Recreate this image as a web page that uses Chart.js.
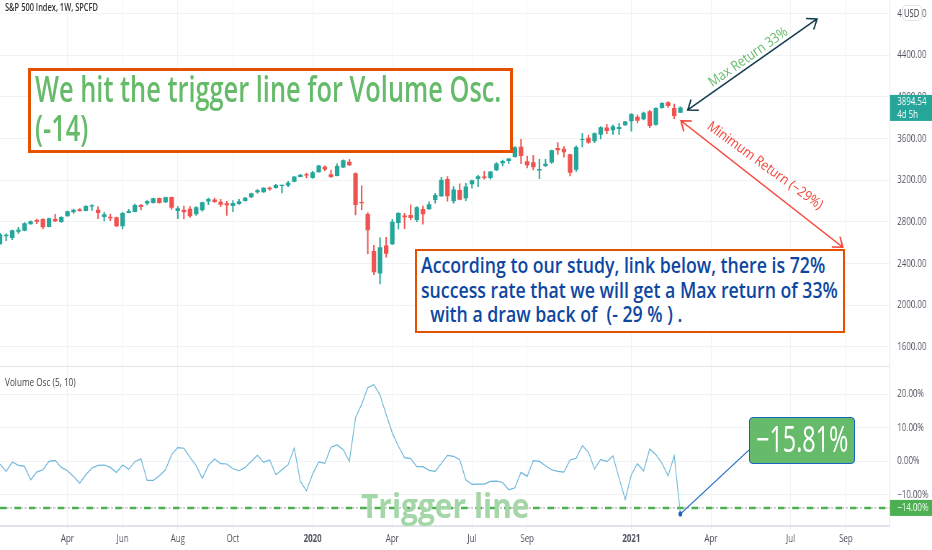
<!DOCTYPE html>
<html>
<head>
<meta charset="utf-8">
<script src="https://cdn.jsdelivr.net/npm/chart.js@4"></script>
<style>
  html, body { margin: 0; padding: 0; background: #fff; overflow: hidden; }
  #wrap { position: relative; width: 932px; height: 550px; overflow: hidden; }
  /* the source screenshot is squeezed sideways, so the canvases are drawn wide and pulled in */
  canvas { position: absolute; left: 0; transform-origin: left top; }
  .note { position: absolute; box-sizing: border-box; background: #fff; font-family: "Open Sans", sans-serif; }
  .line { position: absolute; white-space: nowrap; transform-origin: left top; font-family: "Open Sans", sans-serif; }
</style>
</head>
<body>
<div id="wrap">
  <canvas id="price" style="top:0"></canvas>
  <canvas id="osc" style="top:367px"></canvas>

  <div class="line" style="left:5px;top:0;font-size:10.5px;font-weight:600;color:#333;transform:scaleX(.71)">S&amp;P 500 Index, 1W, SPCFD</div>
  <div class="line" style="left:5px;top:375px;font-size:10.5px;color:#444;transform:scaleX(.78)">Volume Osc (5, 10)</div>

  <div class="note" style="left:28px;top:68px;width:485px;height:85px;border:3px solid #e65100"></div>
  <div class="line" style="left:35px;top:69px;font-size:36px;line-height:39px;color:#66bb6a;font-weight:600;transform:scaleX(.705)">We hit the trigger line for Volume Osc.<br>(-14)</div>

  <div class="note" style="left:415px;top:249px;width:430px;height:84px;border:2px solid #e65100"></div>
  <div class="line" style="left:421px;top:252px;font-size:22px;line-height:24.5px;color:#0d47a1;font-weight:600;transform:scaleX(.805)">According to our study, link below, there is 72%<br>success rate that we will get a Max return of 33%<br>&nbsp;&nbsp;with a draw back of &nbsp;(- 29 % ) .</div>

  <div class="line" style="left:704px;top:75px;font-size:14px;color:#66bb6a;transform:rotate(-35deg) scaleX(.87)">Max Return 33%</div>
  <div class="line" style="left:715px;top:116px;font-size:14px;color:#f44336;transform:rotate(36deg) scaleX(.88)">Minimum Return (−29%)</div>

  <div class="line" style="left:361px;top:482px;font-size:34px;font-weight:700;color:#a5d6a7;transform:scaleX(.88)">Trigger line</div>

  <div class="note" style="left:749px;top:417px;width:106px;height:47px;background:#66bb6a;border:1px solid #1565c0;border-radius:4px"></div>
  <div class="line" style="left:756px;top:416px;font-size:36px;line-height:46px;color:#fff;transform:scaleX(.65)">−15.81%</div>

  <div class="note" style="left:902px;top:5px;width:20px;height:16px;border:1px solid #e0e3eb;border-radius:4px"></div>
  <div class="line" style="left:904px;top:6px;font-size:10.5px;color:#333;transform:scaleX(.72)">USD</div>
</div>

<script>
// weekly candles
const opens = [
  2586,2663,2647,2708,2718,2779,2814,2824,2753,2827,2801,2856,2894,2917,2907,2949,2913,2849,2846,2840,
  2760,2888,2897,2958,2978,2984,3026,2990,3035,2907,2913,2923,2875,2913,2997,3010,2990,2974,2955,2974,
  3003,3038,3086,3086,3125,3128,3147,3151,3189,3234,3253,3225,3279,3327,3254,3244,3324,3375,3263,2988,
  2872,2516,2305,2568,2587,2792,2856,2863,2821,2920,2923,3013,3048,3209,3000,3103,3029,3164,3215,3231,
  3225,3298,3365,3388,3426,3519,3378,3368,3295,3339,3372,3506,3500,3445,3304,3589,3605,3577,3641,3702,
  3682,3695,3730,3769,3807,3788,3859,3737,3897,3945,3891,3852
];
const highs = [
  2689,2683,2721,2747,2792,2808,2827,2830,2836,2872,2849,2904,2923,2926,2955,2965,2945,2891,2875,2846,
  2891,2920,2971,2968,3003,3029,3029,3038,3038,2945,2952,2945,2945,2990,3029,3029,3016,2997,3003,3016,
  3035,3077,3109,3128,3135,3160,3154,3189,3234,3256,3269,3286,3343,3337,3298,3356,3395,3401,3270,3145,
  2888,2574,2645,2651,2824,2888,2882,2962,2946,2952,2991,3074,3228,3234,3138,3164,3170,3202,3247,3286,
  3286,3369,3394,3410,3522,3593,3432,3439,3400,3400,3490,3561,3522,3452,3529,3650,3634,3654,3714,3737,
  3730,3746,3766,3839,3827,3855,3871,3897,3945,3955,3932,3907
];
const lows = [
  2586,2619,2628,2689,2711,2776,2782,2731,2750,2801,2795,2853,2881,2901,2904,2910,2830,2808,2811,2753,
  2731,2885,2894,2913,2961,2978,2978,2984,2920,2830,2827,2843,2862,2901,2965,2987,2945,2862,2897,2968,
  2997,3032,3074,3083,3102,3122,3077,3138,3183,3231,3221,3218,3276,3292,3225,3241,3321,3340,2866,2914,
  2491,2292,2202,2459,2580,2731,2734,2818,2802,2776,2920,2978,3042,2997,2978,3010,3004,3122,3138,3209,
  3209,3292,3336,3362,3420,3359,3317,3298,3214,3330,3362,3448,3420,3240,3285,3519,3554,3561,3596,3647,
  3641,3641,3727,3670,3750,3779,3705,3727,3891,3900,3791,3849
];
const closes = [
  2676,2673,2715,2721,2782,2801,2804,2750,2830,2808,2843,2897,2913,2907,2949,2955,2888,2869,2836,2760,
  2881,2901,2958,2945,2997,3022,2984,3032,2939,2926,2894,2856,2936,2984,3016,2993,2968,2961,2978,2993,
  3029,3070,3099,3125,3115,3151,3154,3173,3231,3250,3247,3273,3337,3305,3234,3334,3388,3346,2965,2981,
  2722,2318,2552,2497,2798,2882,2846,2840,2936,2875,2965,3055,3202,3048,3106,3016,3135,3196,3234,3225,
  3279,3356,3381,3404,3513,3436,3346,3327,3304,3355,3484,3490,3471,3275,3516,3593,3564,3647,3705,3676,
  3714,3708,3762,3833,3775,3846,3724,3891,3939,3916,3820,3894.54
];
const oscValues = [
  -0.9,-3.1,-0.3,-1.3,-1.6,-5.6,-3.3,-2.6,-0.1,0.2,-1.9,-2.9,-4.6,-6.6,-4.1,-2.1,-1.3,-1.2,-1.9,-3.4,
  -1.2,-2.5,-0.2,0.7,-5.8,-5.8,-4.4,-2.6,1.9,4.0,3.8,1.1,-1.4,-5.2,-1.3,0.6,-0.8,-0.9,-2.3,-2.9,
  -1.9,-0.1,1.7,-0.4,0.3,-4.1,-2.6,-1.1,3.9,-6.1,-8.9,-3.9,-0.3,-0.7,4.1,4.8,3.4,-0.1,12.9,16.9,
  21.9,22.8,19.7,13.9,8.4,4.4,1.0,0.7,-1.7,-1.7,-2.8,-3.1,-0.7,1.7,1.4,0.4,-5.6,-7.0,-6.9,-6.9,
  -6.1,-6.0,-6.4,-8.6,-8.0,-3.4,-4.6,0.1,-0.1,-1.4,-2.6,-3.1,-3.3,0.3,0.8,4.6,2.6,-2.4,0.5,-0.2,
  1.5,-5.1,-11.5,-4.1,-0.8,-3.0,3.6,1.9,-0.7,-4.4,1.6,-15.81
];
const weekTicks = [11, 20, 29, 38, 51, 64, 77, 86, 103, 116, 129, 138];
const weekLabels = ['Apr', 'Jun', 'Aug', 'Oct', '2020', 'Apr', 'Jul', 'Sep', '2021', 'Apr', 'Jul', 'Sep'];
const priceTicks = [1600, 2000, 2400, 2800, 3200, 3600, 4000, 4400, 4800];
const oscTicks = [-10, 0, 10, 20];
const triggerLevel = -14;
const maxArrow = [[112.2, 3875], [133.3, 4750]];
const minArrow = [[111.1, 3771], [137.5, 2555]];
const calloutLine = [[111, -15.81], [122.2, 3.3]];

const SQUEEZE = 0.72;
const UP = '#26a69a', DOWN = '#ef5350', GRID = '#f1f2f4', AXIS = '#e0e3eb';
const AXIS_FONT = { family: '"Open Sans", sans-serif', size: 11 };
const AXIS_W = 42 / SQUEEZE;
const weekMin = 0, weekMax = 145.2;

const barColors = opens.map((o, i) => closes[i] >= o ? UP : DOWN);

function setupCanvas(id, h) {
  const el = document.getElementById(id);
  el.width = Math.round(932 / SQUEEZE);
  el.height = h;
  el.style.transform = 'scaleX(' + (932 / el.width) + ')';
  return el;
}

function noMargins(a) {
  a.paddingTop = a.paddingBottom = a.paddingLeft = a.paddingRight = 0;
}

function rightAxis(ticks, fmt, min, max) {
  return {
    position: 'right', min, max,
    afterBuildTicks: a => { a.ticks = ticks.map(v => ({ value: v })); },
    afterFit: a => { a.width = AXIS_W; noMargins(a); },
    grid: { color: GRID, drawTicks: false },
    border: { color: AXIS },
    ticks: { color: '#50535e', font: AXIS_FONT, padding: 10, callback: fmt, autoSkip: false, maxRotation: 0 }
  };
}

function arrow(ctx, from, to, color) {
  // heads are worked out in screen space so they don't come out skewed
  const a0 = [from[0] * SQUEEZE, from[1]], a1 = [to[0] * SQUEEZE, to[1]];
  const ang = Math.atan2(a1[1] - a0[1], a1[0] - a0[0]);
  ctx.save();
  ctx.scale(1 / SQUEEZE, 1);
  ctx.strokeStyle = color;
  ctx.lineWidth = 1.5;
  ctx.beginPath();
  ctx.moveTo(a0[0], a0[1]);
  ctx.lineTo(a1[0], a1[1]);
  [[a1, ang + Math.PI], [a0, ang]].forEach(([p, a]) => {
    ctx.moveTo(p[0] + 11 * Math.cos(a - 0.65), p[1] + 11 * Math.sin(a - 0.65));
    ctx.lineTo(p[0], p[1]);
    ctx.lineTo(p[0] + 11 * Math.cos(a + 0.65), p[1] + 11 * Math.sin(a + 0.65));
  });
  ctx.stroke();
  ctx.restore();
}

function axisTag(ctx, scale, value, color, h, lines) {
  const y = scale.getPixelForValue(value);
  ctx.save();
  ctx.fillStyle = color;
  ctx.fillRect(scale.left, y - h / 2, AXIS_W, h);
  ctx.fillStyle = '#fff';
  ctx.font = '11px ' + AXIS_FONT.family;
  ctx.textAlign = 'left';
  ctx.textBaseline = 'middle';
  lines.forEach((t, i) => ctx.fillText(t, scale.left + 10, y + (i - (lines.length - 1) / 2) * 13));
  ctx.restore();
}

new Chart(setupCanvas('price', 367), {
  type: 'bar',
  data: {
    datasets: [
      { data: highs.map((h, i) => ({ x: i, y: [lows[i], h] })), backgroundColor: barColors, barThickness: 1.4, grouped: false, order: 2 },
      { data: closes.map((c, i) => ({ x: i, y: [opens[i], c] })), backgroundColor: barColors, barThickness: 5.6, grouped: false, order: 1 }
    ]
  },
  options: {
    responsive: false, animation: false, events: [],
    layout: { padding: 0, autoPadding: false },
    plugins: { legend: { display: false }, tooltip: { enabled: false } },
    scales: {
      x: {
        type: 'linear', min: weekMin, max: weekMax, offset: false,
        afterBuildTicks: a => { a.ticks = weekTicks.map(v => ({ value: v })); },
        afterFit: a => { a.height = 1; noMargins(a); },
        grid: { color: GRID, drawTicks: false, offset: false },
        border: { color: AXIS },
        ticks: { display: false }
      },
      y: rightAxis(priceTicks, v => v.toFixed(2), 1413.6, 4932)
    }
  },
  plugins: [{
    id: 'priceMarks',
    afterDraw(chart) {
      const { ctx, scales: { x, y } } = chart;
      const px = p => [x.getPixelForValue(p[0]), y.getPixelForValue(p[1])];
      arrow(ctx, px(maxArrow[0]), px(maxArrow[1]), '#0f3a4d');
      arrow(ctx, px(minArrow[0]), px(minArrow[1]), '#f44336');
      axisTag(ctx, y, closes[closes.length - 1], UP, 26, ['3894.54', '4d 5h']);
    }
  }]
});

new Chart(setupCanvas('osc', 183), {
  type: 'line',
  data: {
    datasets: [
      { data: oscValues.map((v, i) => ({ x: i, y: v })), borderColor: '#6bb5d8', borderWidth: 1.2, pointRadius: 0, order: 1 },
      { data: [{ x: weekMin, y: triggerLevel }, { x: weekMax, y: triggerLevel }], borderColor: '#4caf50', borderWidth: 2.5, borderDash: [9, 11], pointRadius: 0, order: 3 },
      { data: [{ x: weekMin, y: triggerLevel }, { x: weekMax, y: triggerLevel }], borderColor: '#9e9e9e', borderWidth: 1, borderDash: [12, 2, 3, 3], pointRadius: 0, order: 4 },
      { data: calloutLine.map(p => ({ x: p[0], y: p[1] })), borderColor: '#1565c0', borderWidth: 1.2, pointRadius: [2, 0], pointBackgroundColor: '#1565c0', order: 0 }
    ]
  },
  options: {
    responsive: false, animation: false, events: [],
    layout: { padding: 0, autoPadding: false },
    plugins: { legend: { display: false }, tooltip: { enabled: false } },
    scales: {
      x: {
        type: 'linear', min: weekMin, max: weekMax, offset: false,
        afterBuildTicks: a => { a.ticks = weekTicks.map(v => ({ value: v })); },
        afterFit: a => { a.height = 24; noMargins(a); },
        grid: { color: GRID, tickLength: 3, tickColor: AXIS },
        border: { color: AXIS, width: 2 },
        ticks: {
          color: '#50535e', autoSkip: false, maxRotation: 0, padding: 3,
          font: c => ({ ...AXIS_FONT, weight: /^\d/.test(weekLabels[c.index] || '') ? 'bold' : 'normal' }),
          callback: (v, i) => weekLabels[i]
        }
      },
      y: rightAxis(oscTicks, v => (v < 0 ? '−' : '') + Math.abs(v).toFixed(2) + '%', -19.4, 28.06)
    }
  },
  plugins: [{
    id: 'oscMarks',
    afterDraw(chart) {
      axisTag(chart.ctx, chart.scales.y, triggerLevel, '#4caf50', 16, ['−14.00%']);
    }
  }]
});
</script>
</body>
</html>
